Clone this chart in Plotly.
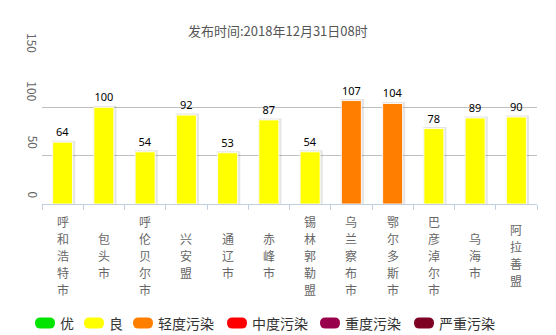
import plotly.graph_objects as go

cities = ["呼和浩特市", "包头市", "呼伦贝尔市", "兴安盟", "通辽市", "赤峰市",
          "锡林郭勒盟", "乌兰察布市", "鄂尔多斯市", "巴彦淖尔市", "乌海市", "阿拉善盟"]
aqi = [64, 100, 54, 92, 53, 87, 54, 107, 104, 78, 89, 90]
y_ticks = [0, 50, 100, 150]
levels = ["优", "良", "轻度污染", "中度污染", "重度污染", "严重污染"]
level_colors = ["#00E400", "#FFFF00", "#FF7E00", "#FF0000", "#99004C", "#7E0023"]
level_bounds = [50, 100, 150, 200, 300, 10000]
title_text = "发布时间:2018年12月31日08时"


def color_for(v):
    for b, c in zip(level_bounds, level_colors):
        if v <= b:
            return c
    return level_colors[-1]


bar_colors = [color_for(v) for v in aqi]
W, H = 556, 335
ml, mr, mt, mb = 42, 19, 59, 131
pw, ph = W - ml - mr, H - mt - mb


def px(x):
    return (x - ml) / pw


def py(y):
    return (H - mb - y) / ph


FONT = "Noto Sans CJK SC"
fig = go.Figure()

# shadow
fig.add_trace(go.Bar(
    x=cities, y=aqi, width=0.49, offset=-0.22,
    marker=dict(color="rgba(0,0,0,0)", line=dict(color="rgba(0,0,0,0.10)", width=3)),
    hoverinfo="skip", showlegend=False))
# bars
fig.add_trace(go.Bar(
    x=cities, y=aqi, width=0.485,
    marker=dict(color=bar_colors, line=dict(color="rgba(255,255,255,0.9)", width=1)),
    text=[str(v) for v in aqi], textposition="outside", cliponaxis=False,
    textfont=dict(family="Noto Sans", size=11, color="#000"),
    showlegend=False))

fig.update_layout(
    width=W, height=H, margin=dict(l=ml, r=mr, t=mt, b=mb),
    paper_bgcolor="white", plot_bgcolor="white",
    barmode="overlay", bargap=0.5,
    xaxis=dict(type="category", showticklabels=False, showline=True, linecolor="#C0D0E0",
               linewidth=1, ticks="outside", tickson="boundaries", ticklen=5,
               tickcolor="#C0D0E0", showgrid=False),
    yaxis=dict(range=[0, 150], tickvals=y_ticks, showticklabels=False, showgrid=True,
               gridcolor="#C0C0C0", gridwidth=1, zeroline=False, fixedrange=True),
    showlegend=False,
)

annotations = []
annotations.append(dict(text=title_text, xref="paper", yref="paper", x=px(278), y=py(30),
                        xanchor="center", yanchor="middle", showarrow=False,
                        font=dict(family=FONT, size=13, color="#555")))
for t in y_ticks:
    annotations.append(dict(text=str(t), xref="paper", yref="y", x=px(33), y=t,
                            xanchor="center", yanchor="bottom", yshift=4, textangle=90,
                            showarrow=False, font=dict(family=FONT, size=12, color="#666")))
# vertical category labels, one character per row, centred on a common middle line
for c in cities:
    n = len(c)
    for i, ch in enumerate(c):
        yc = 255 + (i - (n - 1) / 2) * 17
        annotations.append(dict(text=ch, xref="x", yref="paper", x=c, y=py(yc),
                                xanchor="center", yanchor="middle", showarrow=False,
                                font=dict(family=FONT, size=12, color="#666")))

# custom legend
shapes = []
leg_x = [35, 84, 133, 227, 320, 414]
ly = 323
for xs, lab, col in zip(leg_x, levels, level_colors):
    x0, x1 = px(xs), px(xs + 20)
    y0, y1 = py(ly + 5.5), py(ly - 5.5)
    r = 5.5
    path = (f"M {px(xs + r)} {y0} L {px(xs + 20 - r)} {y0} "
            f"Q {x1} {y0} {x1} {py(ly)} Q {x1} {y1} {px(xs + 20 - r)} {y1} "
            f"L {px(xs + r)} {y1} Q {x0} {y1} {x0} {py(ly)} Q {x0} {y0} {px(xs + r)} {y0} Z")
    shapes.append(dict(type="path", xref="paper", yref="paper", path=path,
                       fillcolor=col, line=dict(width=0)))
    annotations.append(dict(text=lab, xref="paper", yref="paper", x=px(xs + 23), y=py(ly),
                            xanchor="left", yanchor="middle", showarrow=False,
                            font=dict(family=FONT, size=14, color="#333")))

fig.update_layout(annotations=annotations, shapes=shapes)
fig.write_html("out.html")
